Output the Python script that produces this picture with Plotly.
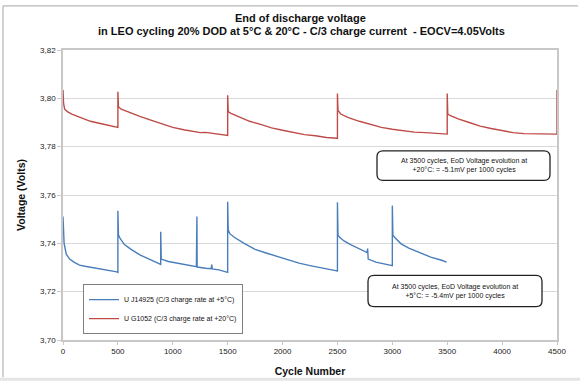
import plotly.graph_objects as go

# ---- data ----
red_cycles = [0, 5, 15, 40, 80, 150, 250, 350, 420, 490, 500,
              500, 505, 530, 600, 700, 800, 900, 1000, 1100, 1200, 1250, 1300, 1400, 1490, 1500,
              1500, 1505, 1530, 1600, 1700, 1800, 1900, 2000, 2100, 2200, 2300, 2400, 2495, 2500,
              2500, 2505, 2530, 2600, 2700, 2800, 2900, 3000, 3100, 3200, 3300, 3400, 3495, 3500,
              3500, 3505, 3530, 3600, 3700, 3800, 3900, 4000, 4100, 4200, 4300, 4400, 4495, 4500,
              4500]
red_volts = [3.8035, 3.7980, 3.7955, 3.7945, 3.7935, 3.7922, 3.7905, 3.7895, 3.7888, 3.7882, 3.7880,
             3.8027, 3.7965, 3.7955, 3.7942, 3.7925, 3.7910, 3.7895, 3.7880, 3.7870, 3.7862, 3.7858, 3.7859, 3.7852, 3.7848, 3.7846,
             3.8013, 3.7945, 3.7938, 3.7925, 3.7905, 3.7892, 3.7878, 3.7868, 3.7858, 3.7850, 3.7845, 3.7838, 3.7835, 3.7834,
             3.8020, 3.7950, 3.7935, 3.7920, 3.7905, 3.7892, 3.7880, 3.7872, 3.7865, 3.7860, 3.7858, 3.7856, 3.7853, 3.7852,
             3.8020, 3.7935, 3.7928, 3.7915, 3.7900, 3.7885, 3.7875, 3.7865, 3.7858, 3.7854, 3.7853, 3.7853, 3.7853, 3.7852,
             3.8035]

blue_cycles = [0, 3, 10, 30, 60, 100, 150, 200, 300, 400, 490, 500,
               500, 505, 520, 560, 620, 700, 800, 880, 890, 890, 895, 960, 1050, 1150, 1215, 1220, 1222,
               1300, 1350, 1355, 1360, 1420, 1495, 1500,
               1500, 1505, 1520, 1560, 1650, 1750, 1850, 1950, 2050, 2150, 2250, 2350, 2450, 2495, 2500,
               2500, 2505, 2520, 2560, 2620, 2700, 2770, 2775, 2780, 2850, 2950, 2995, 3000,
               3000, 3005, 3020, 3080, 3150, 3250, 3350, 3450, 3495]
blue_volts = [3.7511, 3.7450, 3.7400, 3.7355, 3.7335, 3.7322, 3.7310, 3.7305, 3.7298, 3.7290, 3.7282, 3.7280,
              3.7535, 3.7435, 3.7420, 3.7395, 3.7375, 3.7352, 3.7332, 3.7315, 3.7313, 3.7448, 3.7335, 3.7325, 3.7318, 3.7310, 3.7303, 3.7511, 3.7302,
              3.7297, 3.7295, 3.7312, 3.7294, 3.7290, 3.7282, 3.7280,
              3.7572, 3.7455, 3.7440, 3.7425, 3.7400, 3.7375, 3.7360, 3.7345, 3.7330, 3.7318, 3.7308, 3.7300, 3.7290, 3.7286, 3.7284,
              3.7570, 3.7435, 3.7425, 3.7410, 3.7395, 3.7378, 3.7362, 3.7378, 3.7335, 3.7322, 3.7313, 3.7309, 3.7308,
              3.7556, 3.7435, 3.7425, 3.7398, 3.7380, 3.7360, 3.7343, 3.7330, 3.7322]

blue_name = "U J14925 (C/3 charge rate at +5°C)"
red_name = "U G1052 (C/3 charge rate at +20°C)"
title_lines = ["End of discharge voltage",
               "in LEO cycling 20% DOD at 5°C & 20°C - C/3 charge current  - EOCV=4.05Volts"]
note_20 = "At 3500 cycles, EoD Voltage evolution at<br>+20°C: = -5.1mV per 1000 cycles"
note_5 = "At 3500 cycles, EoD Voltage evolution at<br>+5°C: = -5.4mV per 1000 cycles"

BLUE = "#4a7ebb"
RED = "#be4b48"
FONT = "Liberation Sans, Arial, sans-serif"

W, H = 581, 388
ML, MR, MT, MB = 63, 24, 50, 42
PW, PH = W - ML - MR, H - MT - MB


def px(x):
    return (x - ML) / PW


def py(y):
    return (H - MB - y) / PH


def rounded_rect(x0, y0, x1, y1, r=6):
    # pixel box -> paper-coordinate rounded rectangle path
    pts = []
    pts.append(f"M {px(x0 + r)},{py(y0)}")
    pts.append(f"L {px(x1 - r)},{py(y0)}")
    pts.append(f"Q {px(x1)},{py(y0)} {px(x1)},{py(y0 + r)}")
    pts.append(f"L {px(x1)},{py(y1 - r)}")
    pts.append(f"Q {px(x1)},{py(y1)} {px(x1 - r)},{py(y1)}")
    pts.append(f"L {px(x0 + r)},{py(y1)}")
    pts.append(f"Q {px(x0)},{py(y1)} {px(x0)},{py(y1 - r)}")
    pts.append(f"L {px(x0)},{py(y0 + r)}")
    pts.append(f"Q {px(x0)},{py(y0)} {px(x0 + r)},{py(y0)}")
    pts.append("Z")
    return " ".join(pts)


fig = go.Figure()
fig.add_trace(go.Scatter(x=blue_cycles, y=blue_volts, mode="lines", name=blue_name,
                         line=dict(color=BLUE, width=1.4)))
fig.add_trace(go.Scatter(x=red_cycles, y=red_volts, mode="lines", name=red_name,
                         line=dict(color=RED, width=1.4)))

fig.update_layout(
    width=W, height=H,
    margin=dict(l=ML, r=MR, t=MT, b=MB),
    paper_bgcolor="white", plot_bgcolor="white",
    separators=",.",
    font=dict(family=FONT, color="#222222"),
    showlegend=True,
    legend=dict(x=px(83), y=py(289), xanchor="left", yanchor="top",
                bgcolor="white", bordercolor="#808080", borderwidth=1,
                font=dict(size=7, family=FONT, color="#111111"),
                tracegroupgap=2, itemwidth=30),
    xaxis=dict(range=[0, 4500], dtick=500, tick0=0,
               showgrid=False, zeroline=False,
               showline=True, linecolor="#c8c8c8", linewidth=1.5, mirror=True,
               ticks="outside", ticklen=3, tickcolor="#c8c8c8",
               tickfont=dict(size=8, family=FONT, color="#222222"),
               title=dict(text="<b>Cycle Number</b>", font=dict(size=10.5, family=FONT, color="#111111"),
                          standoff=12)),
    yaxis=dict(range=[3.70, 3.82], dtick=0.02, tick0=3.70, tickformat=".2f",
               showgrid=True, gridcolor="#d9d9d9", gridwidth=1, zeroline=False,
               showline=True, linecolor="#c8c8c8", linewidth=1.5, mirror=True,
               ticks="outside", ticklen=4, tickcolor="#c8c8c8",
               tickfont=dict(size=8, family=FONT, color="#222222"),
               title=dict(text="<b>Voltage (Volts)</b>", font=dict(size=10.5, family=FONT, color="#111111"),
                          standoff=12)),
)

# title lines
fig.add_annotation(x=px(300), y=py(17), xref="paper", yref="paper", text="<b>" + title_lines[0] + "</b>",
                   showarrow=False, xanchor="center", yanchor="middle",
                   font=dict(size=11, family=FONT, color="#111111"))
fig.add_annotation(x=px(301), y=py(31), xref="paper", yref="paper", text="<b>" + title_lines[1] + "</b>",
                   showarrow=False, xanchor="center", yanchor="middle",
                   font=dict(size=11, family=FONT, color="#111111"))

# outer chart frame: top and left edges, plus grey strip at the bottom
frame_path = f"M {px(578)},{py(5)} L {px(3)},{py(5)} L {px(3)},{py(384)}"
fig.add_shape(type="path", xref="paper", yref="paper", path=frame_path,
              line=dict(color="#a6a6a6", width=1), layer="below")
fig.add_shape(type="rect", xref="paper", yref="paper",
              x0=px(0), x1=px(580), y0=py(387.5), y1=py(384.5),
              line=dict(width=0), fillcolor="#e4e4e4", layer="below")

# annotation boxes (rounded)
fig.add_shape(type="path", xref="paper", yref="paper", path=rounded_rect(377, 153, 550, 183),
              line=dict(color="#222222", width=1.3), fillcolor="white", layer="above")
fig.add_shape(type="path", xref="paper", yref="paper", path=rounded_rect(368, 280, 542, 312),
              line=dict(color="#222222", width=1.3), fillcolor="white", layer="above")
fig.add_annotation(x=px(463.5), y=py(168), xref="paper", yref="paper", text=note_20, showarrow=False,
                   xanchor="center", yanchor="middle",
                   font=dict(size=7, family=FONT, color="#111111"))
fig.add_annotation(x=px(455), y=py(296), xref="paper", yref="paper", text=note_5, showarrow=False,
                   xanchor="center", yanchor="middle",
                   font=dict(size=7, family=FONT, color="#111111"))

fig.write_html("out.html")
